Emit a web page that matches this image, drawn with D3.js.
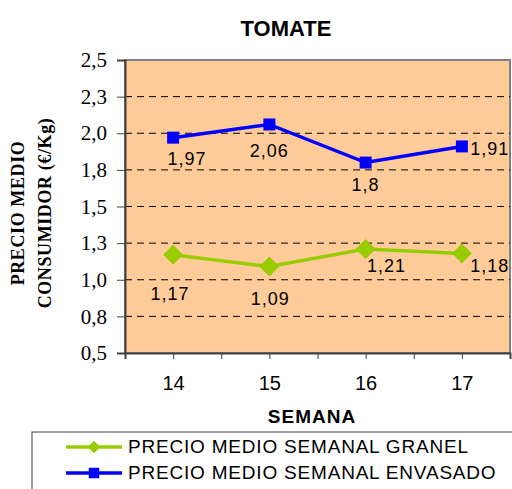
<!DOCTYPE html>
<html>
<head>
<meta charset="utf-8">
<script src="https://cdn.jsdelivr.net/npm/d3@7"></script>
<style>
  html, body { margin: 0; padding: 0; background: #ffffff; }
  svg { display: block; }
</style>
</head>
<body>
<div id="chart"></div>
<script>
// datos
const semanas = [14, 15, 16, 17];
const granel = [1.17, 1.09, 1.21, 1.18];
const envasado = [1.97, 2.06, 1.8, 1.91];
const yTicks = [0.5, 0.75, 1.0, 1.25, 1.5, 1.75, 2.0, 2.25, 2.5];
const serieNombres = ['PRECIO MEDIO SEMANAL GRANEL', 'PRECIO MEDIO SEMANAL ENVASADO'];

// desplazamiento de las etiquetas (como quedaron en el original)
const granelLabelOff = [[-3, 45], [1, 38], [21, 23], [28, 19]];
const envasadoLabelOff = [[14, 27], [0, 33], [0, 28], [28, 9]];

const width = 512, height = 489;
const plot = { left: 125, right: 510, top: 60, bottom: 353 };

const svg = d3.select('#chart').append('svg')
  .attr('width', width)
  .attr('height', height);

const x = d3.scaleLinear().domain([13.5, 17.5]).range([plot.left, plot.right]);
const y = d3.scaleLinear().domain([0.5, 2.5]).range([plot.bottom, plot.top]);

// fondo del area de trazado
svg.append('rect')
  .attr('x', plot.left).attr('y', plot.top)
  .attr('width', plot.right - plot.left)
  .attr('height', plot.bottom - plot.top)
  .attr('fill', '#ffcc99')
  .attr('stroke', '#808080')
  .attr('stroke-width', 2);

// lineas de division
svg.append('g').selectAll('line')
  .data(yTicks.filter(d => d > 0.5 && d < 2.5))
  .join('line')
  .attr('x1', plot.left).attr('x2', plot.right)
  .attr('y1', d => y(d)).attr('y2', d => y(d))
  .attr('stroke', '#000')
  .attr('stroke-width', 1)
  .attr('stroke-dasharray', '7,5');

// eje Y
const yAxis = d3.axisLeft(y)
  .tickValues(yTicks)
  .tickSize(8)
  .tickPadding(10)
  .tickFormat(d => d3.format('.1f')(d + 1e-9).replace('.', ','));
const gy = svg.append('g')
  .attr('transform', `translate(${plot.left},0)`)
  .call(yAxis);
gy.select('.domain').attr('stroke', '#404040').attr('stroke-width', 2);
gy.selectAll('.tick line').attr('stroke', '#404040');
gy.selectAll('.tick text')
  .attr('font-family', '"Liberation Serif", "Times New Roman", serif')
  .attr('font-size', 21)
  .attr('fill', '#000');

// eje X
const xAxis = d3.axisBottom(x)
  .tickValues(d3.range(13.5, 17.51, 0.5))
  .tickSize(6)
  .tickPadding(17)
  .tickFormat(d => Number.isInteger(d) ? d : '');
const gx = svg.append('g')
  .attr('transform', `translate(0,${plot.bottom})`)
  .call(xAxis);
gx.select('.domain').attr('stroke', '#404040').attr('stroke-width', 2);
gx.selectAll('.tick line').attr('stroke', '#404040');
gx.selectAll('.tick text')
  .attr('font-family', '"Liberation Sans", Arial, sans-serif')
  .attr('font-size', 20)
  .attr('fill', '#000');

// titulo
svg.append('text')
  .attr('x', 286).attr('y', 36)
  .attr('text-anchor', 'middle')
  .attr('font-family', '"Liberation Sans", Arial, sans-serif')
  .attr('font-weight', 'bold')
  .attr('font-size', 22)
  .text('TOMATE');

// titulo eje X
svg.append('text')
  .attr('x', 312).attr('y', 423)
  .attr('text-anchor', 'middle')
  .attr('font-family', '"Liberation Sans", Arial, sans-serif')
  .attr('font-weight', 'bold')
  .attr('font-size', 19)
  .attr('letter-spacing', 1)
  .text('SEMANA');

// titulo eje Y (dos lineas)
const yTitle = svg.append('text')
  .attr('transform', 'translate(0,213) rotate(-90)')
  .attr('text-anchor', 'middle')
  .attr('font-family', '"Liberation Serif", "Times New Roman", serif')
  .attr('font-weight', 'bold')
  .attr('font-size', 18)
  .attr('letter-spacing', 0.6);
yTitle.append('tspan').attr('x', 0).attr('y', 24).text('PRECIO MEDIO');
yTitle.append('tspan').attr('x', 0).attr('y', 51).text('CONSUMIDOR  (€/Kg)');

const line = d3.line().x((d, i) => x(semanas[i])).y(d => y(d));
// rombo = cuadrado girado 45 grados
const diamond = d3.symbol().type(d3.symbolSquare).size(200);
const square = d3.symbol().type(d3.symbolSquare).size(144);

function drawSerie(values, color, sym, rot, offs) {
  const g = svg.append('g');
  g.append('path')
    .datum(values)
    .attr('d', line)
    .attr('fill', 'none')
    .attr('stroke', color)
    .attr('stroke-width', 3.5);
  g.selectAll('path.mk')
    .data(values)
    .join('path')
    .attr('class', 'mk')
    .attr('transform', (d, i) => `translate(${x(semanas[i])},${y(d)}) rotate(${rot})`)
    .attr('d', sym)
    .attr('fill', color);
  g.selectAll('text')
    .data(values)
    .join('text')
    .attr('x', (d, i) => x(semanas[i]) + offs[i][0])
    .attr('y', (d, i) => y(d) + offs[i][1])
    .attr('text-anchor', 'middle')
    .attr('font-family', '"Liberation Sans", Arial, sans-serif')
    .attr('font-size', 18)
    .attr('letter-spacing', 1)
    .attr('fill', '#000')
    .text(d => String(d).replace('.', ','));
}

drawSerie(granel, '#99cc00', diamond, 45, granelLabelOff);
drawSerie(envasado, '#0000ff', square, 0, envasadoLabelOff);

// leyenda
const leg = svg.append('g');
leg.append('rect')
  .attr('x', 32).attr('y', 432)
  .attr('width', 500).attr('height', 80)
  .attr('fill', '#fff')
  .attr('stroke', '#404040')
  .attr('stroke-width', 1);
const legItems = [
  { name: serieNombres[0], color: '#99cc00', size: 80, rot: 45 },
  { name: serieNombres[1], color: '#0000ff', size: 110, rot: 0 }
];
legItems.forEach((it, i) => {
  const cy = 447 + i * 26;
  leg.append('line')
    .attr('x1', 66).attr('x2', 122)
    .attr('y1', cy).attr('y2', cy)
    .attr('stroke', it.color).attr('stroke-width', 3.5);
  leg.append('path')
    .attr('transform', `translate(94,${cy}) rotate(${it.rot})`)
    .attr('d', d3.symbol().type(d3.symbolSquare).size(it.size))
    .attr('fill', it.color);
  leg.append('text')
    .attr('x', 128).attr('y', cy + 6)
    .attr('font-family', '"Liberation Sans", Arial, sans-serif')
    .attr('font-size', 19)
    .attr('letter-spacing', 0.8)
    .text(it.name);
});
</script>
</body>
</html>
